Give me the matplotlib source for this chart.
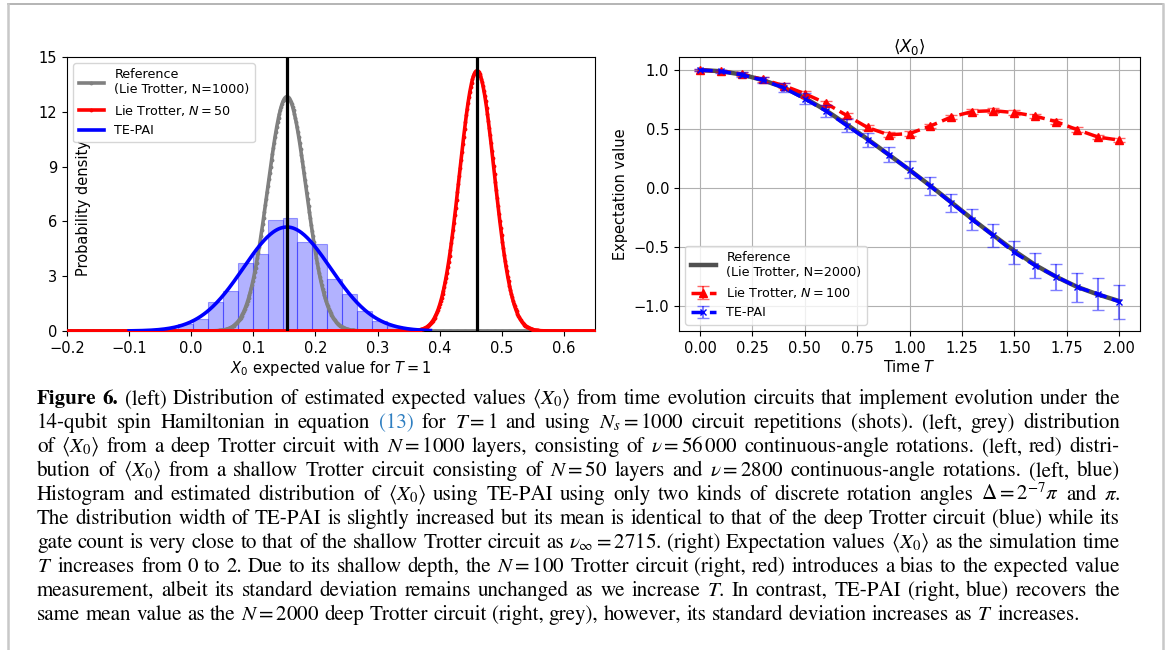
import numpy as np
import matplotlib
matplotlib.use('Agg')
import matplotlib.pyplot as plt
from matplotlib.lines import Line2D

# ---------------- left panel data ----------------
ref1000_mean, ref1000_std = 0.154, 0.0311
lt50_mean, lt50_std = 0.460, 0.0280
tepai_mean, tepai_std = 0.154, 0.0701
tepai_curve_range = (-0.100, 0.385)
hist_left_edges = [-0.021, 0.003, 0.027, 0.051, 0.075, 0.099, 0.123, 0.147,
                   0.171, 0.195, 0.219, 0.243, 0.267, 0.291, 0.315]
hist_bin_width = 0.024
hist_density = [0.40, 0.65, 1.60, 2.20, 3.75, 4.20, 6.10, 6.20,
                4.85, 4.75, 2.85, 2.00, 1.10, 0.55, 0.25]
left_yticks = [0, 3, 6, 9, 12, 15]
left_xticks = [-0.2, -0.1, 0.0, 0.1, 0.2, 0.3, 0.4, 0.5, 0.6]

# ---------------- right panel data ----------------
T = [0.0, 0.1, 0.2, 0.3, 0.4, 0.5, 0.6, 0.7, 0.8, 0.9, 1.0,
     1.1, 1.2, 1.3, 1.4, 1.5, 1.6, 1.7, 1.8, 1.9, 2.0]
ref2000 = [1.0, 0.99, 0.962, 0.915, 0.852, 0.763, 0.66, 0.54, 0.415, 0.285, 0.155,
           0.02, -0.12, -0.262, -0.398, -0.53, -0.65, -0.75, -0.835, -0.9, -0.955]
lt100 = [1.0, 0.99, 0.966, 0.92, 0.868, 0.80, 0.72, 0.616, 0.514, 0.452, 0.462,
         0.527, 0.603, 0.649, 0.656, 0.64, 0.61, 0.563, 0.495, 0.433, 0.407]
lt100_err = [0.005, 0.01, 0.015, 0.018, 0.02, 0.02, 0.02, 0.02, 0.02, 0.02, 0.02,
             0.02, 0.02, 0.02, 0.02, 0.02, 0.02, 0.02, 0.02, 0.02, 0.02]
tepai = [1.0, 0.99, 0.96, 0.915, 0.85, 0.757, 0.655, 0.53, 0.41, 0.285, 0.155,
         0.017, -0.124, -0.266, -0.40, -0.544, -0.655, -0.748, -0.838, -0.895, -0.96]
tepai_err = [0.005, 0.012, 0.02, 0.028, 0.04, 0.045, 0.05, 0.058, 0.06, 0.066, 0.072,
             0.075, 0.078, 0.088, 0.095, 0.099, 0.108, 0.11, 0.123, 0.132, 0.143]
right_xticks = [0.0, 0.25, 0.5, 0.75, 1.0, 1.25, 1.5, 1.75, 2.0]
right_yticks = [-1.0, -0.5, 0.0, 0.5, 1.0]

# ---------------- caption ----------------
caption_lines = [
    r"Figure 6. (left) Distribution of estimated expected values $\langle X_0\rangle$ from time evolution circuits that implement evolution under the",
    r"14-qubit spin Hamiltonian in equation (13) for $T=1$ and using $N_s=1000$ circuit repetitions (shots). (left, grey) distribution",
    r"of $\langle X_0\rangle$ from a deep Trotter circuit with $N=1000$ layers, consisting of $\nu=56\,000$ continuous-angle rotations. (left, red) distri-",
    r"bution of $\langle X_0\rangle$ from a shallow Trotter circuit consisting of $N=50$ layers and $\nu=2800$ continuous-angle rotations. (left, blue)",
    r"Histogram and estimated distribution of $\langle X_0\rangle$ using TE-PAI using only two kinds of discrete rotation angles $\Delta=2^{-7}\pi$ and $\pi$.",
    r"The distribution width of TE-PAI is slightly increased but its mean is identical to that of the deep Trotter circuit (blue) while its",
    r"gate count is very close to that of the shallow Trotter circuit as $\nu_\infty=2715$. (right) Expectation values $\langle X_0\rangle$ as the simulation time",
    r"$T$ increases from 0 to 2. Due to its shallow depth, the $N=100$ Trotter circuit (right, red) introduces a bias to the expected value",
    r"measurement, albeit its standard deviation remains unchanged as we increase $T$. In contrast, TE-PAI (right, blue) recovers the",
    r"same mean value as the $N=2000$ deep Trotter circuit (right, grey), however, its standard deviation increases as $T$ increases.",
]


def normal_pdf(x, mu, sd):
    return np.exp(-0.5 * ((x - mu) / sd) ** 2) / (sd * np.sqrt(2 * np.pi))


def tokenize(line):
    toks, cur, inmath = [], '', False
    for ch in line:
        if ch == '$':
            inmath = not inmath
        if ch == ' ' and not inmath:
            toks.append(cur)
            cur = ''
        else:
            cur += ch
    toks.append(cur)
    return toks


W, H = 1168, 650
fig = plt.figure(figsize=(W / 100, H / 100), dpi=100)
fig.patch.set_facecolor('white')

# frame lines around the figure panel
fig.add_artist(Line2D([8 / W, 1163 / W], [1 - 4 / H, 1 - 4 / H], color='#a8a8a8', lw=1.2))
fig.add_artist(Line2D([8 / W, 8 / W], [0, 1 - 4 / H], color='#c8c8c8', lw=1.8))
fig.add_artist(Line2D([1163 / W, 1163 / W], [0, 1 - 4 / H], color='#c8c8c8', lw=1.8))

# ---------------- left panel ----------------
axL = fig.add_axes([67 / W, 1 - 331 / H, 528 / W, 274 / H])
xs = np.linspace(-0.2, 0.65, 600)
axL.bar(hist_left_edges, hist_density, width=hist_bin_width, align='edge',
        color=(0, 0, 1, 0.3), edgecolor=(0, 0, 1, 0.35), linewidth=0.8, zorder=1)
axL.plot(xs, normal_pdf(xs, ref1000_mean, ref1000_std), color='grey', lw=2.6,
         marker='.', ms=3.5, label='Reference\n(Lie Trotter, N=1000)', zorder=2)
axL.plot(xs, normal_pdf(xs, lt50_mean, lt50_std), color='red', lw=2.6,
         marker='.', ms=3.5, label=r'Lie Trotter, $N=50$', zorder=3)
xb = np.linspace(tepai_curve_range[0], tepai_curve_range[1], 300)
axL.plot(xb, normal_pdf(xb, tepai_mean, tepai_std), color='blue', lw=2.6,
         label='TE-PAI', zorder=4)
axL.axvline(ref1000_mean, color='black', lw=2.3, zorder=5)
axL.axvline(lt50_mean, color='black', lw=2.3, zorder=5)
axL.set_xlim(-0.2, 0.65)
axL.set_ylim(0, 15)
axL.set_xticks(left_xticks)
axL.set_yticks(left_yticks)
axL.tick_params(labelsize=10.5)
axL.set_xlabel(r'$X_0$ expected value for $T=1$', fontsize=10.5, labelpad=2)
axL.set_ylabel('Probability density', fontsize=10.5)
axL.yaxis.set_label_coords(0.045, 0.45)
axL.legend(loc='upper left', fontsize=9.2, framealpha=0.8)

# ---------------- right panel ----------------
axR = fig.add_axes([679 / W, 1 - 331 / H, 461 / W, 274 / H])
axR.plot(T, ref2000, color='#505050', lw=3.2, label='Reference\n(Lie Trotter, N=2000)', zorder=2)
axR.errorbar(T, lt100, yerr=lt100_err, fmt='--^', color='red', lw=2.5, ms=5.5,
             ecolor=(1, 0, 0, 0.6), elinewidth=1.5, capsize=4,
             label=r'Lie Trotter, $N=100$', zorder=3)
axR.errorbar(T, tepai, yerr=tepai_err, fmt='--x', color='blue', lw=2.5, ms=5,
             ecolor=(0, 0, 1, 0.5), elinewidth=1.5, capsize=4, label='TE-PAI', zorder=4)
axR.set_xticks(right_xticks)
axR.set_yticks(right_yticks)
axR.grid(True)
axR.tick_params(labelsize=10.5)
axR.set_xlabel(r'Time $T$', fontsize=10.5, labelpad=2)
axR.set_ylabel('Expectation value', fontsize=10.5)
axR.set_title(r'$\langle X_0\rangle$', fontsize=12, pad=3)
axR.legend(loc='lower left', fontsize=9.2, framealpha=0.8)

# ---------------- caption (justified) ----------------
renderer = fig.canvas.get_renderer()
cap_fs = 15.15
x0, x1 = 37.0, 1120.0
base_y0, dy = 404.0, 24.0


def mk(tok, weight='normal', color='black'):
    return fig.text(0, 0, tok, fontsize=cap_fs, family='STIXGeneral',
                    math_fontfamily='stix', ha='left', va='baseline',
                    weight=weight, color=color)


probe1 = mk('a b')
probe2 = mk('ab')
space_w = probe1.get_window_extent(renderer).width - probe2.get_window_extent(renderer).width
probe1.remove()
probe2.remove()

for i, line in enumerate(caption_lines):
    toks = tokenize(line)
    arts = []
    for j, tok in enumerate(toks):
        if i == 0 and j < 2:
            arts.append(mk(tok, weight='bold'))
        elif tok == '(13)':
            arts.append(mk(tok, color='#2f7fc1'))
        else:
            arts.append(mk(tok))
    widths = [a.get_window_extent(renderer).width for a in arts]
    if i < len(caption_lines) - 1:
        gap = (x1 - x0 - sum(widths)) / (len(arts) - 1)
    else:
        gap = space_w
    x = x0
    y = 1 - (base_y0 + i * dy) / H
    for a, w in zip(arts, widths):
        a.set_position((x / W, y))
        x += w + gap

fig.savefig('out.png', dpi=100, facecolor='white')
